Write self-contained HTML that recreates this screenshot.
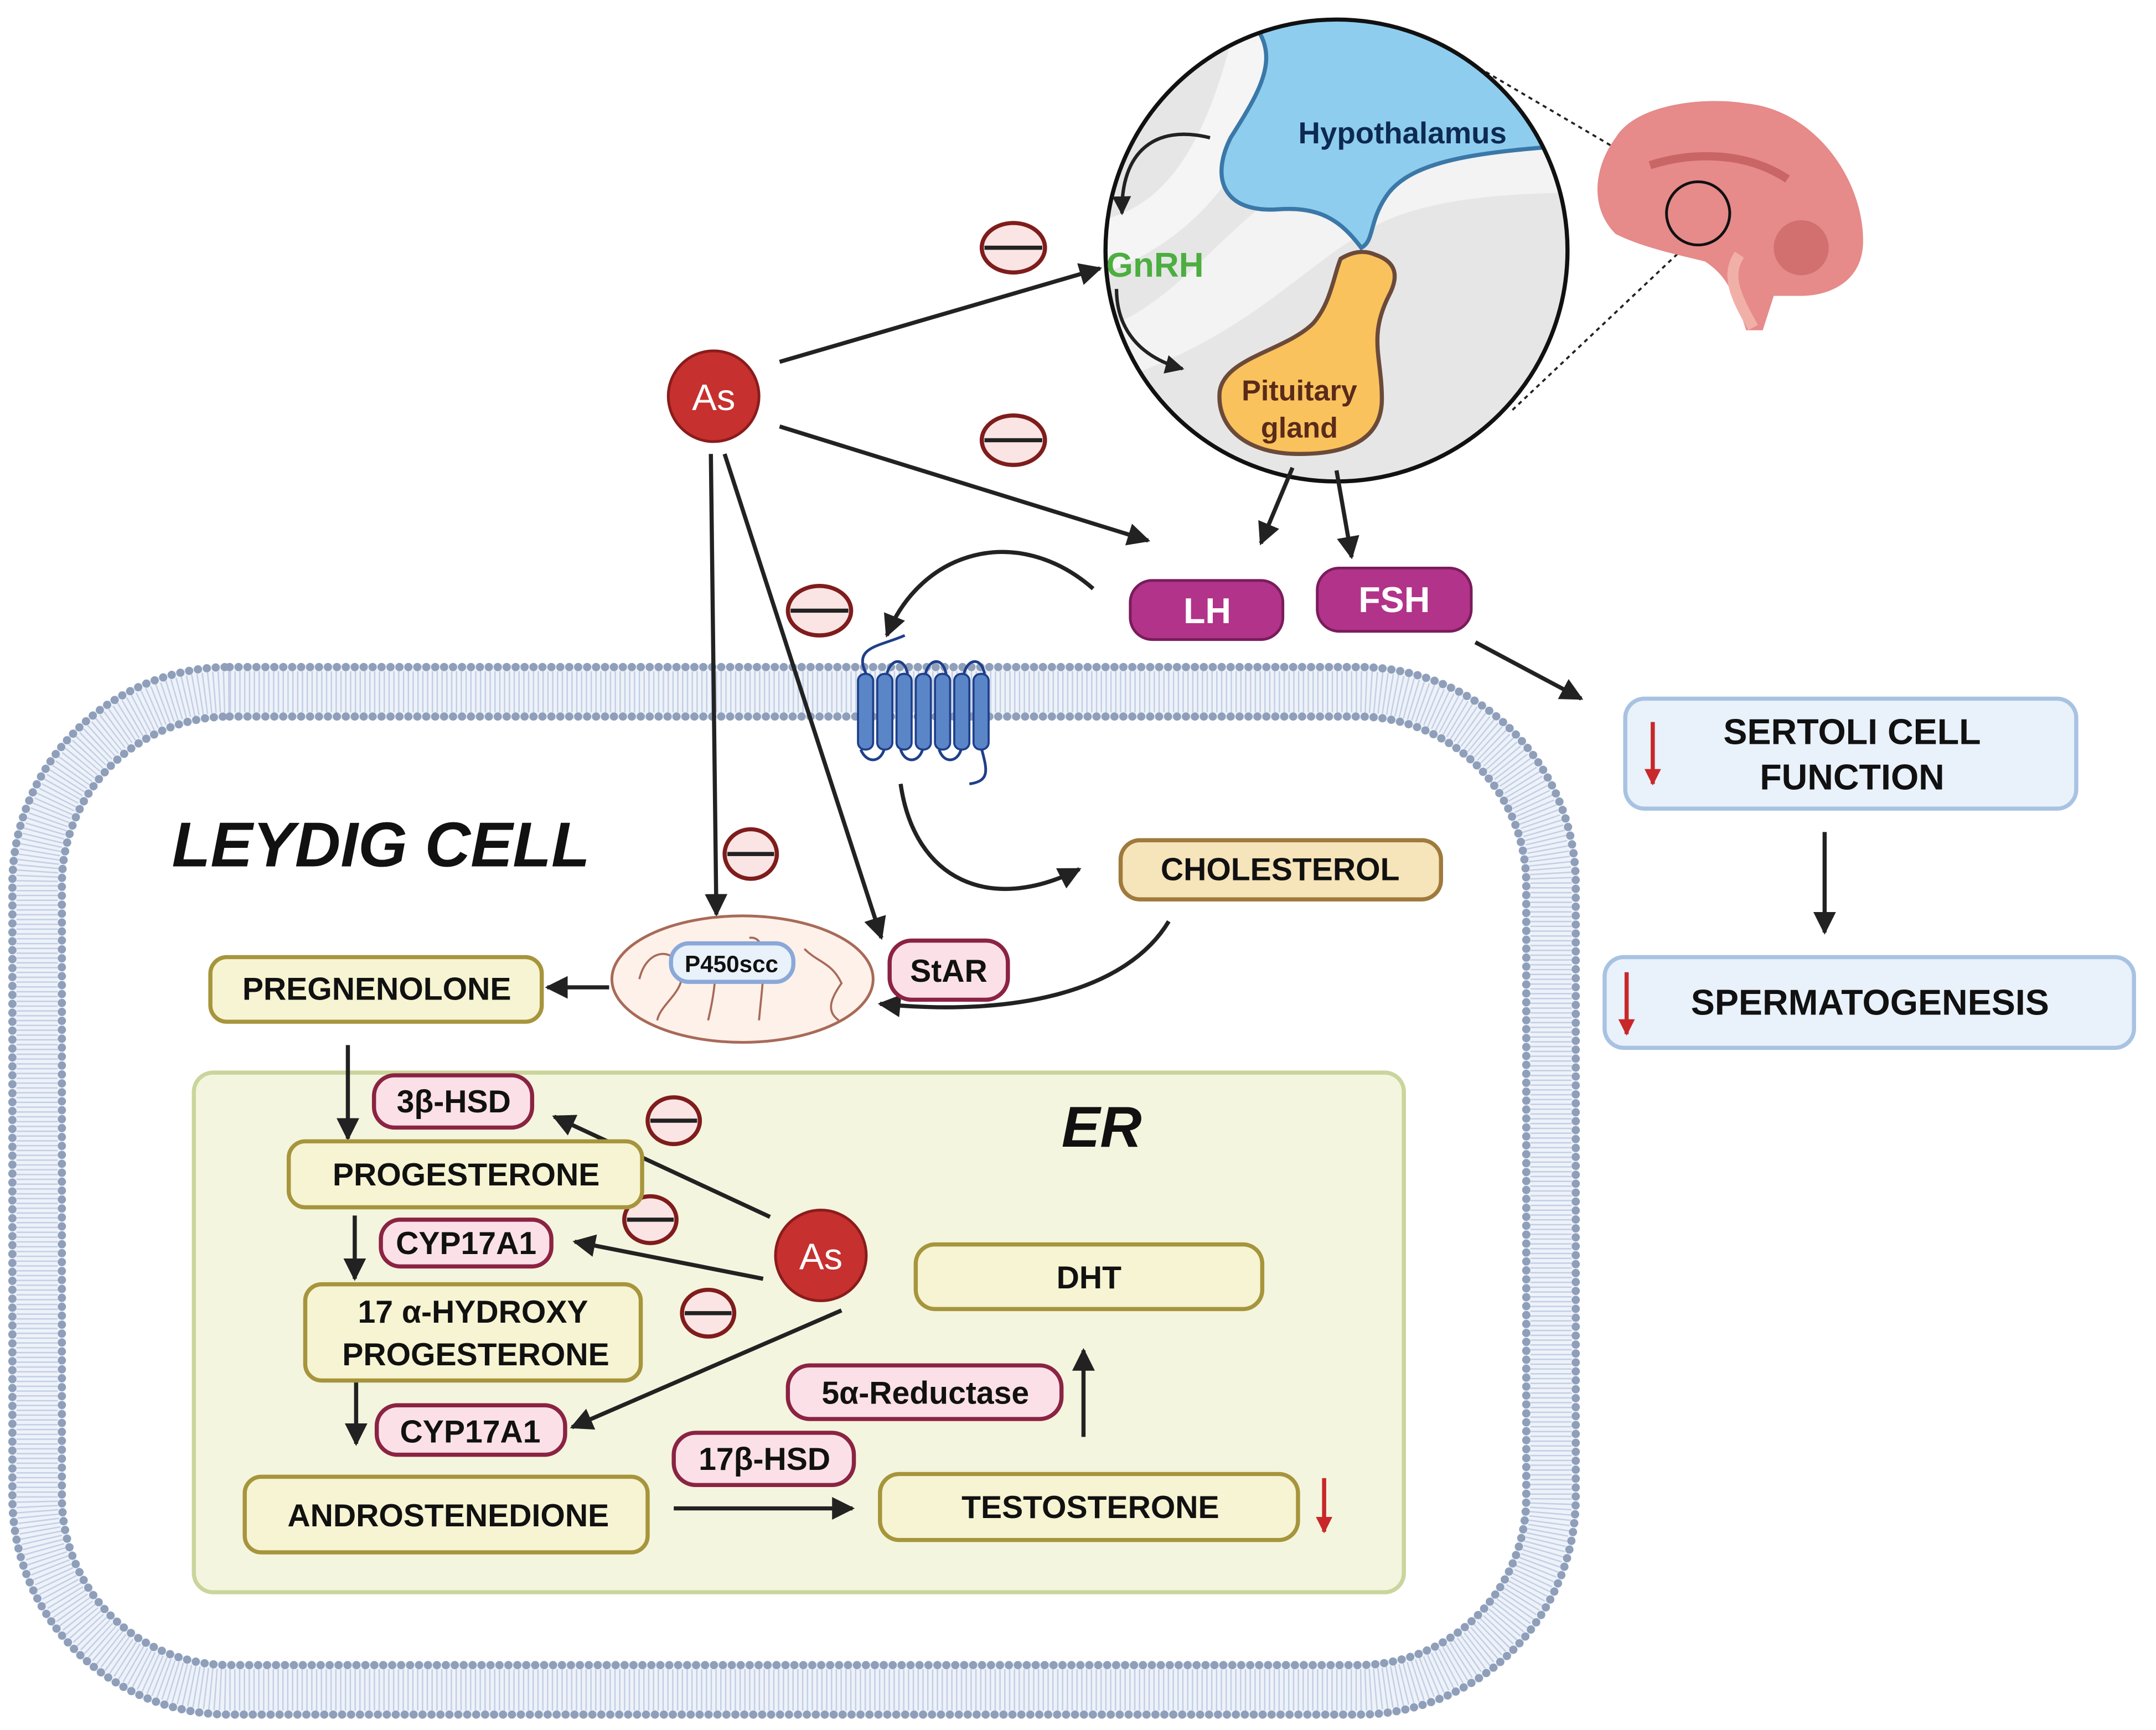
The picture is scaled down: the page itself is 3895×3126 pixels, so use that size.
<!DOCTYPE html>
<html><head><meta charset="utf-8">
<style>
html,body{margin:0;padding:0;background:#fff;}
svg{display:block;}
text{font-family:"Liberation Sans",sans-serif;font-weight:bold;}
</style></head>
<body>
<svg width="3895" height="3126" viewBox="0 0 1568 1258" xmlns="http://www.w3.org/2000/svg">
<defs>
<marker id="ah" viewBox="0 0 10 10" refX="9" refY="5" markerWidth="5.5" markerHeight="5.5" orient="auto-start-reverse" markerUnits="strokeWidth">
<path d="M0,0 L10,5 L0,10 z" fill="#222"/></marker>
<marker id="ahr" viewBox="0 0 10 10" refX="9" refY="5" markerWidth="4" markerHeight="4" orient="auto" markerUnits="strokeWidth">
<path d="M0,0 L10,5 L0,10 z" fill="#c8282a"/></marker>
<clipPath id="cc"><circle cx="972" cy="182" r="168"/></clipPath>
</defs>

<!-- membrane -->
<rect x="27" y="503" width="1101" height="726" rx="140" fill="none" stroke="#eef2f9" stroke-width="40"/>
<rect x="27" y="503" width="1101" height="726" rx="140" fill="none" stroke="#c3cfe5" stroke-width="30" stroke-dasharray="1 2.5"/>
<rect x="9" y="485" width="1137" height="762" rx="158" fill="none" stroke="#8f9fba" stroke-width="6" stroke-dasharray="0 6.5" stroke-linecap="round"/>
<rect x="45" y="521" width="1065" height="690" rx="122" fill="none" stroke="#8f9fba" stroke-width="6" stroke-dasharray="0 6.5" stroke-linecap="round"/>

<!-- ER -->
<rect x="141" y="780" width="880" height="378" rx="14" fill="#f4f5de" stroke="#c9d59c" stroke-width="3"/>
<text x="125" y="630" font-size="46" font-style="italic" fill="#111">LEYDIG CELL</text>
<text x="772" y="834" font-size="42" font-style="italic" fill="#111">ER</text>

<!-- brain zoom circle -->
<line x1="1060" y1="40" x2="1230" y2="140" stroke="#222" stroke-width="1.5" stroke-dasharray="3 3"/>
<line x1="1100" y1="298" x2="1230" y2="175" stroke="#222" stroke-width="1.5" stroke-dasharray="3 3"/>
<circle cx="972" cy="182" r="168" fill="#e6e6e6"/>
<g clip-path="url(#cc)">
<path d="M800,160 C850,150 880,100 900,10 L940,10 C920,110 880,170 800,200 Z" fill="#f5f5f5"/>
<path d="M800,240 C860,220 900,150 950,130 C1020,110 1080,100 1150,100 L1150,140 C1070,140 1020,150 990,170 C940,200 900,250 800,280 Z" fill="#f3f3f3"/>
<path d="M890,0 L1150,0 L1150,105 C1080,110 1030,115 1010,140 C995,160 1000,175 990,180 C975,160 960,150 930,152 C890,155 880,130 895,100 C920,60 940,30 890,0 Z" fill="#8fcdef" stroke="#3a78a8" stroke-width="3"/>
<path d="M1000,185 C1015,190 1018,200 1010,215 C995,245 1005,260 1005,290 C1005,325 970,330 945,330 C905,330 885,310 887,285 C890,260 935,255 955,235 C968,220 970,200 975,188 C985,182 993,182 1000,185 Z" fill="#f9c25c" stroke="#6b4a3a" stroke-width="3"/>
</g>
<circle cx="972" cy="182" r="168" fill="none" stroke="#111" stroke-width="3"/>
<text x="1020" y="104" font-size="22" fill="#0c2a52" text-anchor="middle">Hypothalamus</text>
<text x="945" y="291" font-size="21" fill="#5a2a1a" text-anchor="middle">Pituitary</text>
<text x="945" y="318" font-size="21" fill="#5a2a1a" text-anchor="middle">gland</text>
<text x="840" y="201" font-size="25" fill="#4cae3f" text-anchor="middle">GnRH</text>
<path d="M880,100 C840,90 815,110 816,155" fill="none" stroke="#222" stroke-width="2.5" marker-end="url(#ah)"/>
<path d="M812,210 C812,240 830,260 860,268" fill="none" stroke="#222" stroke-width="2.5" marker-end="url(#ah)"/>

<!-- brain -->
<g>
<path d="M1175,100 C1190,75 1240,70 1270,75 C1320,80 1355,130 1355,175 C1355,205 1330,215 1310,215 L1290,215 L1282,240 L1270,240 C1260,210 1255,200 1240,190 C1220,185 1195,180 1175,170 C1155,150 1160,120 1175,100 Z" fill="#e68a8a"/>
<path d="M1200,120 C1230,110 1270,110 1300,130" fill="none" stroke="#c96565" stroke-width="6"/>
<path d="M1265,185 C1255,200 1262,215 1275,238" fill="none" stroke="#f0b0a8" stroke-width="8"/>
<circle cx="1310" cy="180" r="20" fill="#d27070"/>
<circle cx="1235" cy="155" r="23" fill="none" stroke="#111" stroke-width="2"/>
</g>

<!-- As circles -->
<circle cx="519" cy="288" r="33" fill="#c6302e" stroke="#8a1c1c" stroke-width="2"/>
<text x="519" y="298" font-size="27" fill="#fff" text-anchor="middle" style="font-weight:normal">As</text>
<circle cx="597" cy="913" r="33" fill="#c6302e" stroke="#8a1c1c" stroke-width="2"/>
<text x="597" y="923" font-size="27" fill="#fff" text-anchor="middle" style="font-weight:normal">As</text>

<!-- arrows -->
<g stroke="#222" stroke-width="3" fill="none">
<line x1="567" y1="263" x2="800" y2="195" marker-end="url(#ah)"/>
<line x1="567" y1="310" x2="835" y2="393" marker-end="url(#ah)"/>
<line x1="517" y1="330" x2="521" y2="665" marker-end="url(#ah)"/>
<line x1="527" y1="330" x2="641" y2="682" marker-end="url(#ah)"/>
<line x1="940" y1="340" x2="917" y2="395" marker-end="url(#ah)"/>
<line x1="972" y1="342" x2="983" y2="405" marker-end="url(#ah)"/>
<line x1="1073" y1="467" x2="1150" y2="508" marker-end="url(#ah)"/>
<line x1="1327" y1="605" x2="1327" y2="678" marker-end="url(#ah)"/>
<path d="M795,428 C740,380 670,400 645,462" marker-end="url(#ah)"/>
<path d="M655,570 C665,640 720,665 785,632" marker-end="url(#ah)"/>
<path d="M850,670 C820,720 740,740 640,730" marker-end="url(#ah)"/>
<line x1="443" y1="718" x2="398" y2="718" marker-end="url(#ah)"/>
<line x1="253" y1="760" x2="253" y2="828" marker-end="url(#ah)"/>
<line x1="258" y1="884" x2="258" y2="930" marker-end="url(#ah)"/>
<line x1="259" y1="1005" x2="259" y2="1050" marker-end="url(#ah)"/>
<line x1="490" y1="1097" x2="620" y2="1097" marker-end="url(#ah)"/>
<line x1="788" y1="1045" x2="788" y2="982" marker-end="url(#ah)"/>
<line x1="560" y1="885" x2="403" y2="812" marker-end="url(#ah)"/>
<line x1="555" y1="930" x2="418" y2="903" marker-end="url(#ah)"/>
<line x1="612" y1="953" x2="416" y2="1038" marker-end="url(#ah)"/>
</g>

<!-- minus symbols -->
<g fill="#fbe4e4" stroke="#7f1c1c" stroke-width="3">
<ellipse cx="737" cy="180" rx="23" ry="18"/><ellipse cx="737" cy="320" rx="23" ry="18"/>
<ellipse cx="596" cy="444" rx="23" ry="18"/><ellipse cx="546" cy="621" rx="19" ry="18"/>
<ellipse cx="490" cy="815" rx="19" ry="17"/><ellipse cx="473" cy="887" rx="19" ry="17"/>
<ellipse cx="515" cy="955" rx="19" ry="17"/>
</g>
<g stroke="#222" stroke-width="3">
<line x1="716" y1="180" x2="758" y2="180"/><line x1="716" y1="320" x2="758" y2="320"/>
<line x1="575" y1="444" x2="617" y2="444"/><line x1="529" y1="621" x2="563" y2="621"/>
<line x1="473" y1="815" x2="507" y2="815"/><line x1="456" y1="887" x2="490" y2="887"/>
<line x1="498" y1="955" x2="532" y2="955"/>
</g>

<!-- receptor -->
<g fill="#5a86c8" stroke="#1f3f8a" stroke-width="1.5">
<rect x="624" y="490" width="11" height="55" rx="5"/><rect x="638" y="490" width="11" height="55" rx="5"/>
<rect x="652" y="490" width="11" height="55" rx="5"/><rect x="666" y="490" width="11" height="55" rx="5"/>
<rect x="680" y="490" width="11" height="55" rx="5"/><rect x="694" y="490" width="11" height="55" rx="5"/>
<rect x="708" y="490" width="11" height="55" rx="5"/>
</g>
<path d="M630,490 C620,470 640,470 658,462 M645,490 C648,478 658,478 660,490 M673,490 C676,478 686,478 688,490 M701,490 C704,478 714,478 716,490 M626,545 C630,555 640,555 643,545 M655,545 C658,555 668,555 671,545 M683,545 C686,555 696,555 699,545 M714,545 C718,560 720,568 705,570" fill="none" stroke="#1f3f8a" stroke-width="2"/>

<!-- mitochondrion -->
<ellipse cx="540" cy="712" rx="95" ry="46" fill="#fdf1ea" stroke="#a86a58" stroke-width="2"/>
<path d="M465,712 C470,690 490,688 495,705 C500,720 480,730 478,742 M505,690 C520,680 525,700 515,742 M545,682 C560,680 555,710 552,742 M585,690 C595,700 605,700 612,715 C605,725 600,735 610,742" fill="none" stroke="#a86a58" stroke-width="1.5"/>
<rect x="488" y="686" width="89" height="28" rx="13" fill="#e9f1fb" stroke="#8aa8d8" stroke-width="3"/>
<text x="532" y="707" font-size="17" fill="#111" text-anchor="middle">P450scc</text>

<!-- hormone pills -->
<rect x="822" y="422" width="111" height="43" rx="16" fill="#b2338a" stroke="#7a1c5c" stroke-width="2"/>
<text x="878" y="453" font-size="26" fill="#fff" text-anchor="middle">LH</text>
<rect x="958" y="413" width="112" height="46" rx="16" fill="#b2338a" stroke="#7a1c5c" stroke-width="2"/>
<text x="1014" y="445" font-size="26" fill="#fff" text-anchor="middle">FSH</text>

<!-- Sertoli / Spermatogenesis -->
<rect x="1182" y="508" width="328" height="80" rx="14" fill="#e9f1fa" stroke="#a8c2e2" stroke-width="3"/>
<text x="1347" y="541" font-size="26" fill="#111" text-anchor="middle">SERTOLI CELL</text>
<text x="1347" y="574" font-size="26" fill="#111" text-anchor="middle">FUNCTION</text>
<rect x="1167" y="696" width="385" height="66" rx="14" fill="#e9f1fa" stroke="#a8c2e2" stroke-width="3"/>
<text x="1360" y="738" font-size="26" fill="#111" text-anchor="middle">SPERMATOGENESIS</text>

<!-- steroid boxes -->
<g stroke-width="3">
<rect x="815" y="611" width="233" height="43" rx="14" fill="#f6e4ba" stroke="#9f7a3c"/>
<rect x="153" y="696" width="241" height="47" rx="12" fill="#f6f4d2" stroke="#a6953c"/>
<rect x="210" y="830" width="257" height="48" rx="12" fill="#f6f4d2" stroke="#a6953c"/>
<rect x="222" y="934" width="244" height="70" rx="12" fill="#f6f4d2" stroke="#a6953c"/>
<rect x="178" y="1074" width="293" height="55" rx="12" fill="#f6f4d2" stroke="#a6953c"/>
<rect x="666" y="905" width="252" height="47" rx="14" fill="#f6f4d2" stroke="#a6953c"/>
<rect x="640" y="1072" width="304" height="48" rx="14" fill="#f6f4d2" stroke="#a6953c"/>
</g>
<g font-size="23" fill="#111" text-anchor="middle">
<text x="931" y="640">CHOLESTEROL</text>
<text x="274" y="727">PREGNENOLONE</text>
<text x="339" y="862">PROGESTERONE</text>
<text x="344" y="962">17 α-HYDROXY</text>
<text x="346" y="993">PROGESTERONE</text>
<text x="326" y="1110">ANDROSTENEDIONE</text>
<text x="792" y="937">DHT</text>
<text x="793" y="1104">TESTOSTERONE</text>
</g>

<!-- enzyme pills -->
<g fill="#fbe1e7" stroke="#8b2343" stroke-width="3">
<rect x="647" y="684" width="86" height="43" rx="16"/>
<rect x="272" y="782" width="115" height="38" rx="15"/>
<rect x="277" y="887" width="124" height="34" rx="14"/>
<rect x="274" y="1022" width="137" height="36" rx="15"/>
<rect x="573" y="993" width="199" height="39" rx="16"/>
<rect x="490" y="1042" width="131" height="38" rx="16"/>
</g>
<g font-size="23" fill="#111" text-anchor="middle">
<text x="690" y="714">StAR</text>
<text x="330" y="809">3β-HSD</text>
<text x="339" y="912">CYP17A1</text>
<text x="342" y="1049">CYP17A1</text>
<text x="673" y="1021">5α-Reductase</text>
<text x="556" y="1069">17β-HSD</text>
</g>

<!-- red down arrows (on top) -->
<g stroke="#c8282a" stroke-width="3">
<line x1="963" y1="1075" x2="963" y2="1114" marker-end="url(#ahr)"/>
<line x1="1202" y1="525" x2="1202" y2="570" marker-end="url(#ahr)"/>
<line x1="1183" y1="707" x2="1183" y2="752" marker-end="url(#ahr)"/>
</g>
</svg>
</body></html>
